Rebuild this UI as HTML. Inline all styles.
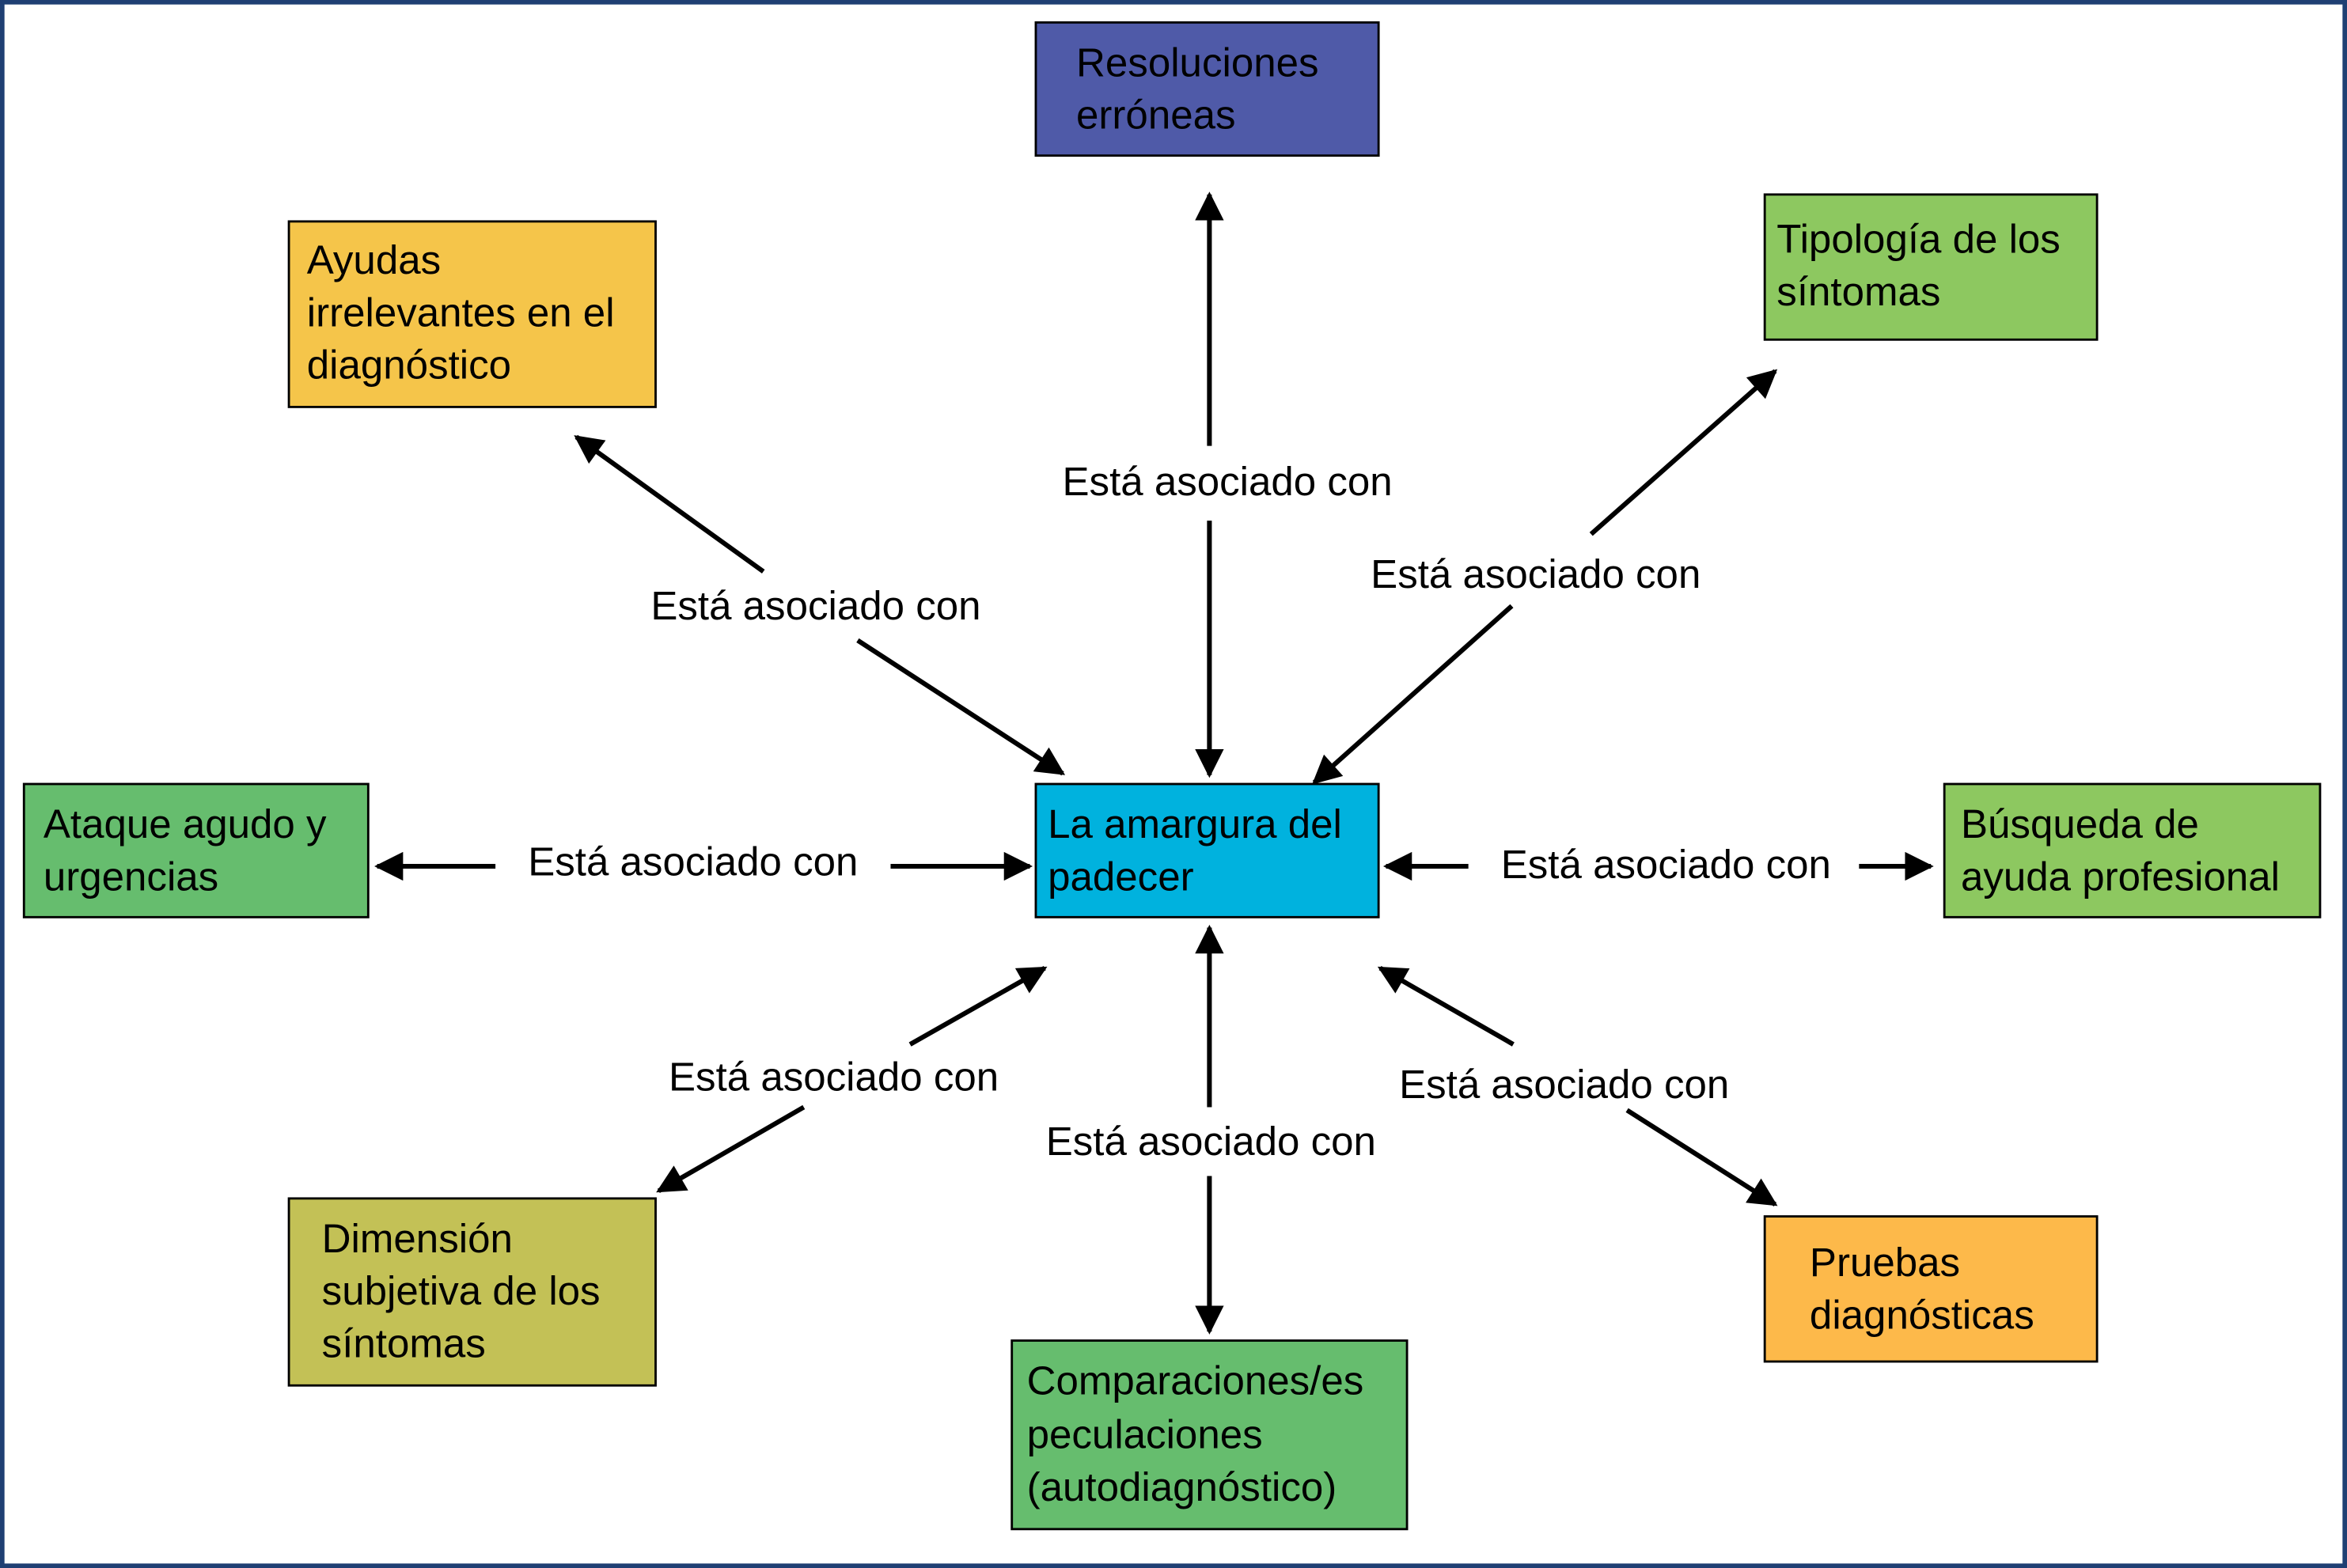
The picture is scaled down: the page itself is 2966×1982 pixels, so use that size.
<!DOCTYPE html>
<html><head><meta charset="utf-8"><style>
html,body{margin:0;padding:0;background:#fff;}
svg{display:block;}
text{font-family:"Liberation Sans",sans-serif;font-size:27px;fill:#000;}
</style></head><body>
<svg width="2966" height="1982" viewBox="0 0 1568 1048" preserveAspectRatio="none" xmlns="http://www.w3.org/2000/svg">
<defs>
<marker id="a" viewBox="0 0 10 10" refX="9" refY="5" markerWidth="6.5" markerHeight="6" markerUnits="strokeWidth" orient="auto">
<path d="M0,0 L10,5 L0,10 z" fill="#000"/></marker>
</defs>
<rect x="1.5" y="1.5" width="1565" height="1045" fill="#fff" stroke="#1F3F73" stroke-width="3"/>
<g stroke="#000" stroke-width="1.5">
<rect x="692" y="15" width="229" height="89" fill="#4F5AA8"/>
<rect x="193" y="148" width="245" height="124" fill="#F5C54A"/>
<rect x="1179" y="130" width="222" height="97" fill="#8DC860"/>
<rect x="16" y="524" width="230" height="89" fill="#66BD6E"/>
<rect x="692" y="524" width="229" height="89" fill="#00B2DE"/>
<rect x="1299" y="524" width="251" height="89" fill="#8DC860"/>
<rect x="193" y="801" width="245" height="125" fill="#C3C156"/>
<rect x="676" y="896" width="264" height="126" fill="#66BD6E"/>
<rect x="1179" y="813" width="222" height="97" fill="#FDB94A"/>
</g>
<g>
<text x="719" y="51">Resoluciones</text><text x="719" y="86">erróneas</text>
<text x="205" y="183">Ayudas</text><text x="205" y="218">irrelevantes en el</text><text x="205" y="253">diagnóstico</text>
<text x="1187" y="169">Tipología de los</text><text x="1187" y="204">síntomas</text>
<text x="29" y="560">Ataque agudo y</text><text x="29" y="595">urgencias</text>
<text x="700" y="560">La amargura del</text><text x="700" y="595">padecer</text>
<text x="1310" y="560">Búsqueda de</text><text x="1310" y="595">ayuda profesional</text>
<text x="215" y="837">Dimensión</text><text x="215" y="872">subjetiva de los</text><text x="215" y="907">síntomas</text>
<text x="686" y="932">Comparaciones/es</text><text x="686" y="968">peculaciones</text><text x="686" y="1003">(autodiagnóstico)</text>
<text x="1209" y="853">Pruebas</text><text x="1209" y="888">diagnósticas</text>
</g>
<g stroke="#000" stroke-width="3.2" fill="none" marker-end="url(#a)">
<line x1="808" y1="298" x2="808" y2="130"/><line x1="808" y1="348" x2="808" y2="518"/>
<line x1="510" y1="382" x2="385" y2="292"/><line x1="573" y1="428" x2="710" y2="517"/>
<line x1="1063" y1="357" x2="1186" y2="248"/><line x1="1010" y1="405" x2="878" y2="523"/>
<line x1="331" y1="579" x2="252" y2="579"/><line x1="595" y1="579" x2="688" y2="579"/>
<line x1="981" y1="579" x2="926" y2="579"/><line x1="1242" y1="579" x2="1290" y2="579"/>
<line x1="608" y1="698" x2="698" y2="647"/><line x1="537" y1="740" x2="440" y2="796"/>
<line x1="808" y1="740" x2="808" y2="620"/><line x1="808" y1="786" x2="808" y2="890"/>
<line x1="1011" y1="698" x2="922" y2="647"/><line x1="1087" y1="742" x2="1186" y2="805"/>
</g>
<g text-anchor="middle">
<text x="820" y="331">Está asociado con</text>
<text x="545" y="414">Está asociado con</text>
<text x="1026" y="393">Está asociado con</text>
<text x="463" y="585">Está asociado con</text>
<text x="1113" y="587">Está asociado con</text>
<text x="557" y="729">Está asociado con</text>
<text x="809" y="772">Está asociado con</text>
<text x="1045" y="734">Está asociado con</text>
</g>
</svg>
</body></html>
